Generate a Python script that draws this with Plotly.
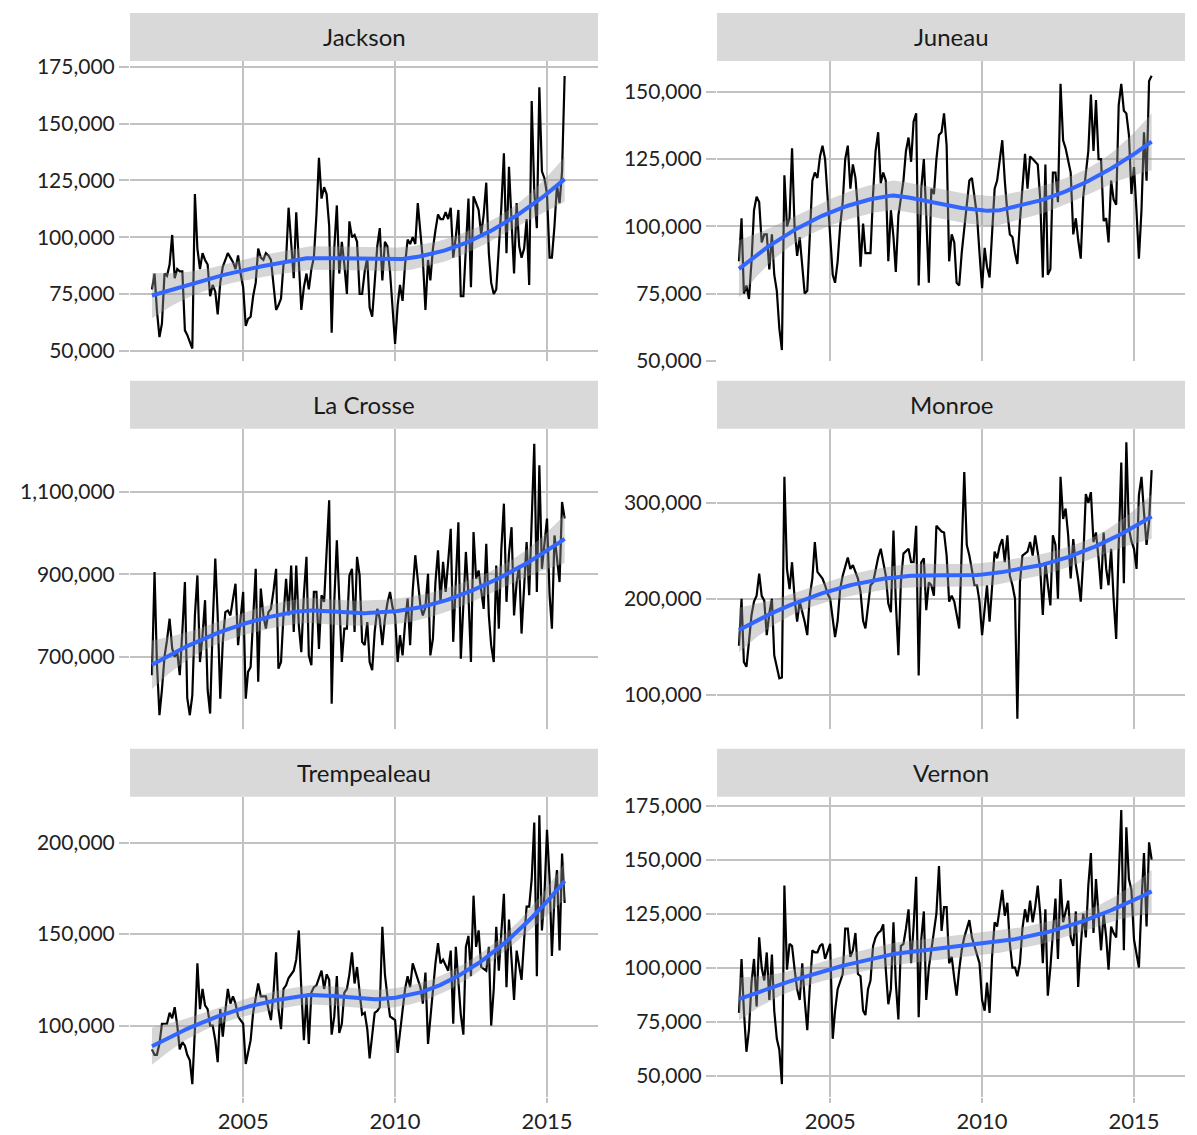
import numpy as np
import pandas as pd
import plotly.graph_objects as go

# Monthly totals per county, in thousands, Jan 2002 - Aug 2015
months = pd.date_range("2002-01-01", periods=164, freq="MS")

jackson_k = [
    77, 84, 68, 56, 62, 84, 83, 88, 101, 82, 86, 85, 85, 59, 57, 54, 51, 119, 95, 86,
    93, 90, 88, 74, 79, 76, 66, 80, 87, 90, 93, 91, 89, 86, 92, 84, 78, 61, 64, 65,
    74, 80, 95, 91, 90, 93, 92, 90, 80, 68, 70, 73, 88, 90, 113, 95, 82, 111, 90, 68,
    78, 84, 77, 86, 91, 110, 135, 117, 122, 119, 105, 58, 95, 114, 84, 98, 88, 75, 107, 100,
    101, 98, 75, 75, 85, 91, 69, 65, 80, 96, 104, 81, 98, 96, 85, 70, 53, 70, 79, 72,
    88, 99, 97, 100, 97, 115, 103, 90, 68, 90, 81, 95, 103, 110, 108, 108, 111, 108, 113, 91,
    100, 112, 74, 74, 95, 117, 78, 118, 115, 112, 101, 110, 124, 93, 80, 75, 77, 95, 113, 137,
    93, 131, 108, 84, 115, 96, 91, 95, 108, 79, 160, 120, 104, 166, 129, 126, 119, 91, 91, 105,
    123, 115, 129, 171,
]

juneau_k = [
    87, 103, 75, 78, 73, 87, 106, 111, 109, 94, 97, 97, 84, 97, 82, 76, 62, 54, 119, 100,
    103, 129, 99, 89, 96, 86, 75, 76, 95, 117, 120, 118, 126, 130, 125, 110, 95, 82, 79, 87,
    100, 109, 125, 130, 114, 123, 118, 106, 85, 101, 90, 90, 90, 112, 128, 135, 116, 120, 117, 87,
    106, 96, 83, 104, 110, 117, 128, 133, 124, 139, 142, 78, 114, 125, 104, 79, 114, 112, 125, 134,
    135, 142, 130, 87, 97, 94, 79, 78, 90, 99, 108, 117, 118, 112, 104, 90, 77, 92, 85, 81,
    98, 114, 117, 125, 132, 117, 105, 97, 96, 90, 86, 102, 115, 127, 114, 126, 125, 124, 123, 110,
    81, 123, 82, 84, 120, 120, 109, 153, 132, 129, 125, 120, 97, 103, 95, 88, 111, 120, 128, 149,
    128, 147, 125, 125, 102, 103, 94, 117, 110, 108, 145, 153, 143, 142, 134, 112, 122, 105, 88, 106,
    135, 117, 154, 156,
]

la_crosse_k = [
    655, 905, 687, 558, 620, 700, 740, 792, 720, 700, 711, 655, 760, 881, 600, 558, 606, 800, 897, 687,
    752, 837, 620, 562, 776, 938, 800, 598, 736, 808, 812, 800, 840, 877, 728, 788, 857, 598, 663, 675,
    800, 913, 639, 865, 800, 768, 808, 816, 860, 913, 671, 687, 800, 889, 800, 921, 760, 921, 776, 711,
    850, 942, 703, 679, 857, 857, 719, 849, 833, 950, 1079, 586, 833, 982, 824, 687, 768, 768, 897, 913,
    760, 942, 897, 736, 728, 784, 687, 667, 760, 816, 792, 728, 792, 830, 857, 820, 800, 687, 752, 703,
    780, 841, 728, 860, 946, 880, 824, 800, 820, 901, 703, 744, 880, 958, 833, 930, 857, 930, 1010, 736,
    880, 1026, 695, 820, 954, 849, 687, 1002, 889, 909, 860, 816, 974, 800, 728, 687, 921, 768, 960, 1071,
    833, 950, 1014, 800, 880, 921, 756, 880, 978, 849, 1010, 1216, 857, 1164, 913, 980, 1035, 850, 768, 994,
    930, 881, 1075, 1035,
]

monroe_k = [
    151, 200, 134, 129, 155, 183, 197, 203, 226, 203, 198, 162, 185, 200, 141, 127, 117, 118, 327, 231,
    210, 238, 200, 176, 197, 186, 176, 162, 203, 221, 259, 228, 225, 221, 214, 205, 200, 176, 160, 177,
    210, 224, 235, 243, 231, 235, 228, 221, 207, 177, 169, 190, 214, 217, 230, 243, 252, 238, 224, 195,
    186, 271, 197, 141, 217, 247, 250, 252, 238, 238, 276, 120, 238, 242, 188, 217, 214, 203, 276, 273,
    270, 269, 245, 197, 203, 197, 185, 169, 250, 332, 256, 245, 230, 214, 214, 197, 162, 190, 214, 176,
    217, 249, 242, 255, 262, 238, 266, 224, 214, 200, 75, 217, 245, 247, 249, 259, 245, 266, 250, 231,
    183, 238, 215, 193, 266, 256, 200, 327, 283, 294, 266, 221, 262, 235, 220, 197, 242, 309, 300, 311,
    259, 269, 242, 210, 269, 231, 214, 252, 200, 158, 256, 342, 216, 363, 273, 260, 252, 231, 308, 327,
    290, 256, 280, 334,
]

trempealeau_k = [
    87, 84, 84, 90, 101, 101, 101, 107, 104, 110, 100, 87, 91, 89, 84, 81, 68, 98, 134, 109,
    120, 111, 109, 100, 100, 92, 80, 109, 94, 108, 120, 112, 116, 112, 105, 103, 101, 79, 85, 92,
    107, 116, 123, 116, 116, 116, 109, 103, 118, 140, 109, 98, 120, 122, 126, 128, 130, 136, 152, 120,
    92, 116, 90, 118, 121, 122, 126, 130, 120, 128, 125, 95, 105, 127, 96, 101, 118, 120, 128, 140,
    123, 132, 118, 106, 107, 98, 82, 95, 107, 108, 110, 154, 128, 116, 105, 104, 103, 85, 95, 107,
    120, 127, 121, 134, 130, 125, 121, 112, 129, 90, 104, 118, 134, 145, 134, 136, 133, 130, 141, 101,
    143, 121, 106, 95, 143, 149, 127, 171, 143, 152, 132, 131, 130, 143, 100, 120, 154, 130, 152, 172,
    121, 158, 136, 114, 141, 133, 125, 147, 165, 165, 180, 211, 127, 215, 152, 171, 207, 180, 138, 171,
    185, 141, 194, 167,
]

vernon_k = [
    79, 104, 80, 61, 71, 93, 104, 82, 114, 100, 94, 107, 85, 106, 80, 67, 62, 46, 138, 99,
    111, 110, 99, 90, 85, 102, 85, 71, 91, 108, 107, 107, 110, 111, 104, 108, 111, 67, 80, 90,
    93, 97, 118, 118, 105, 108, 116, 97, 96, 80, 78, 90, 94, 110, 114, 116, 117, 120, 99, 83,
    90, 121, 93, 76, 110, 111, 118, 127, 102, 119, 142, 77, 113, 126, 85, 100, 108, 118, 125, 147,
    117, 128, 128, 102, 105, 95, 87, 99, 108, 114, 118, 122, 114, 110, 105, 102, 85, 80, 93, 79,
    105, 121, 119, 128, 136, 124, 130, 111, 100, 100, 96, 102, 118, 127, 121, 131, 121, 128, 138, 125,
    102, 127, 87, 100, 114, 132, 104, 141, 121, 126, 131, 114, 110, 126, 91, 110, 125, 114, 138, 153,
    116, 141, 122, 108, 125, 114, 99, 119, 116, 114, 141, 173, 108, 165, 141, 136, 113, 105, 100, 130,
    153, 119, 158, 150,
]

counties = ["Jackson", "Juneau", "La Crosse", "Monroe", "Trempealeau", "Vernon"]
series_k = [jackson_k, juneau_k, la_crosse_k, monroe_k, trempealeau_k, vernon_k]

year_ticks = ["2005-01-01", "2010-01-01", "2015-01-01"]
year_labels = ["2005", "2010", "2015"]

y_tickvals = [
    [50000, 75000, 100000, 125000, 150000, 175000],
    [50000, 75000, 100000, 125000, 150000],
    [700000, 900000, 1100000],
    [100000, 200000, 300000],
    [100000, 150000, 200000],
    [50000, 75000, 100000, 125000, 150000, 175000],
]
y_ranges = [
    [45600, 177640],
    [50000, 161520],
    [525470, 1252700],
    [64580, 377080],
    [61210, 225140],
    [40280, 179170],
]


def loess(x, y, span=0.75):
    """Local quadratic regression with tricube weights, plus pointwise SE."""
    n = len(x)
    q = int(np.floor(n * span))
    L = np.zeros((n, n))
    for i in range(n):
        d = np.abs(x - x[i])
        h = np.sort(d)[q - 1]
        w = np.clip(1 - (d / h) ** 3, 0, None) ** 3
        X = np.column_stack([np.ones(n), x - x[i], (x - x[i]) ** 2])
        XtW = X.T * w
        L[i] = np.linalg.solve(XtW @ X, XtW)[0]
    fit = L @ y
    resid = y - fit
    R = np.eye(n) - L
    delta1 = np.trace(R.T @ R)
    sigma = np.sqrt(resid @ resid / delta1)
    se = sigma * np.sqrt((L ** 2).sum(axis=1))
    return fit, se


W, H = 1197, 1135


def py(v):
    """Vertical layout position (px from top) to page coordinate."""
    return (v - 7.1) / 0.9836


col_px = [(130, 598), (717, 1185)]
row_px = [(60, 360), (428, 728), (796, 1096)]
strip_h = 48

FONT = "Lato"
GRID = "#c2c2c2"

fig = go.Figure()
layout_axes = {}
shapes = []
annotations = []

xnum = 2002 + np.arange(len(months)) / 12.0

for i, (name, vals_k) in enumerate(zip(counties, series_k)):
    r, c = divmod(i, 2)
    k = i + 1
    xa = "x" if k == 1 else f"x{k}"
    ya = "y" if k == 1 else f"y{k}"
    y = np.array(vals_k, dtype=float) * 1000
    fit, se = loess(xnum, y)
    band = 1.975 * se

    fig.add_trace(go.Scatter(
        x=months, y=y, mode="lines", line=dict(color="black", width=2.2),
        xaxis=xa, yaxis=ya, showlegend=False, hoverinfo="skip"))
    fig.add_trace(go.Scatter(
        x=months, y=fit + band, mode="lines", line=dict(width=0),
        xaxis=xa, yaxis=ya, showlegend=False, hoverinfo="skip"))
    fig.add_trace(go.Scatter(
        x=months, y=fit - band, mode="lines", line=dict(width=0),
        fill="tonexty", fillcolor="rgba(153,153,153,0.4)",
        xaxis=xa, yaxis=ya, showlegend=False, hoverinfo="skip"))
    fig.add_trace(go.Scatter(
        x=months, y=fit, mode="lines", line=dict(color="#3366FF", width=4),
        xaxis=xa, yaxis=ya, showlegend=False, hoverinfo="skip"))

    x0, x1 = col_px[c]
    y0, y1 = py(row_px[r][0]), py(row_px[r][1])
    xkey = "xaxis" if k == 1 else f"xaxis{k}"
    ykey = "yaxis" if k == 1 else f"yaxis{k}"
    layout_axes[xkey] = dict(
        domain=[x0 / W, x1 / W], anchor=ya,
        range=["2001-04-12", "2016-09-05"],
        tickvals=year_ticks, ticktext=year_labels,
        showticklabels=(r == 2),
        showgrid=True, gridcolor=GRID, gridwidth=2,
        ticks="outside" if r == 2 else "", ticklen=5, tickwidth=2, tickcolor=GRID,
        zeroline=False, showline=False,
        tickfont=dict(family=FONT, size=22, color="#222222"),
    )
    layout_axes[ykey] = dict(
        domain=[1 - y1 / H, 1 - y0 / H], anchor=xa,
        range=y_ranges[i], tickvals=y_tickvals[i], tickformat=",",
        showgrid=True, gridcolor=GRID, gridwidth=2,
        ticks="outside", ticklen=10, tickwidth=2, tickcolor=GRID,
        zeroline=False, showline=False,
        tickfont=dict(family=FONT, size=21, color="#222222"),
    )

    # facet strip
    sy0, sy1 = py(row_px[r][0] - strip_h), py(row_px[r][0])
    shapes.append(dict(
        type="rect", xref="paper", yref="paper",
        x0=x0 / W, x1=x1 / W, y0=1 - sy1 / H, y1=1 - sy0 / H,
        fillcolor="#d9d9d9", line=dict(width=0), layer="below"))
    annotations.append(dict(
        text=name, xref="paper", yref="paper",
        x=(x0 + x1) / 2 / W, y=1 - (sy0 + sy1) / 2 / H,
        xanchor="center", yanchor="middle", showarrow=False,
        font=dict(family=FONT, size=24, color="#1a1a1a")))

fig.update_layout(
    width=W, height=H,
    margin=dict(l=0, r=0, t=0, b=0),
    paper_bgcolor="white", plot_bgcolor="white",
    shapes=shapes, annotations=annotations,
    **layout_axes,
)

fig.write_html("out.html")
